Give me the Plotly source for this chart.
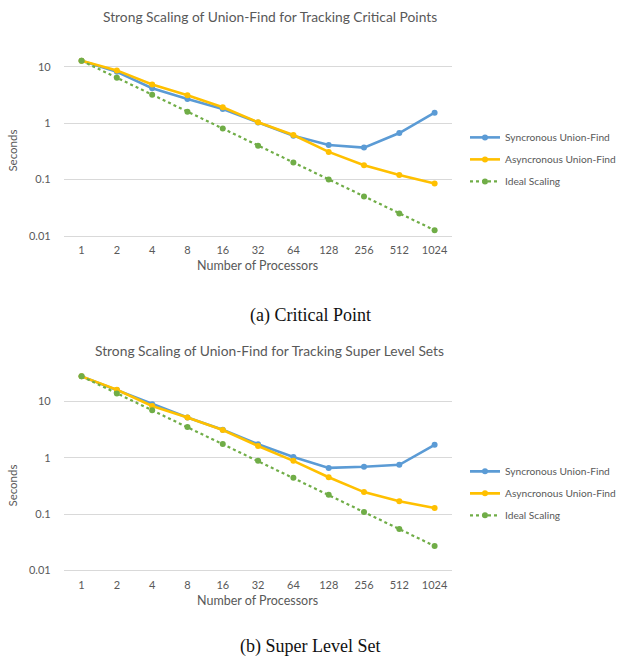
import plotly.graph_objects as go

# Processor counts (category axis)
processors = ["1", "2", "4", "8", "16", "32", "64", "128", "256", "512", "1024"]

# (a) Critical points, seconds
cp_sync = [12.9, 8.2, 4.2, 2.7, 1.8, 1.03, 0.60, 0.41, 0.37, 0.67, 1.54]
cp_async = [12.9, 8.7, 4.9, 3.15, 1.92, 1.04, 0.62, 0.31, 0.18, 0.12, 0.085]
cp_ideal = [12.9, 6.45, 3.22, 1.61, 0.81, 0.40, 0.20, 0.10, 0.050, 0.025, 0.0126]

# (b) Super level sets, seconds
sl_sync = [27.9, 16.0, 8.9, 5.2, 3.15, 1.74, 1.03, 0.66, 0.69, 0.75, 1.70]
sl_async = [27.9, 16.1, 8.3, 5.2, 3.1, 1.62, 0.88, 0.45, 0.245, 0.168, 0.128]
sl_ideal = [27.9, 13.9, 7.0, 3.5, 1.76, 0.88, 0.44, 0.22, 0.109, 0.054, 0.027]

series_names = ["Syncronous Union-Find", "Asyncronous Union-Find", "Ideal Scaling"]
colors = ["#5B9BD5", "#FFC000", "#70AD47"]
dashes = ["solid", "solid", "dot"]

W, H = 621, 666
FONT = "Lato"
GREY = "#595959"


def px_x(v):
    return v / W


def px_y(v):
    return 1 - v / H


fig = go.Figure()

panels = [
    (("x", "y"), [cp_sync, cp_async, cp_ideal], "legend"),
    (("x2", "y2"), [sl_sync, sl_async, sl_ideal], "legend2"),
]
for (xa, ya), data, leg in panels:
    for name, vals, col, dash in zip(series_names, data, colors, dashes):
        fig.add_trace(go.Scatter(
            x=processors, y=vals, name=name, mode="lines+markers",
            xaxis=xa, yaxis=ya, legend=leg, legendgroup=leg + name,
            line=dict(color=col, width=2.6 if dash == "solid" else 2.2, dash=dash),
            marker=dict(color=col, size=6),
        ))

x_dom = [px_x(64), px_x(453)]
tickvals = [0.01, 0.1, 1, 10]
ticktext = ["0.01", "0.1", "1", "10"]

common_x = dict(type="category", range=[-0.5, 10.5], showgrid=False, zeroline=False,
                showline=True, linecolor="#D9D9D9", linewidth=1, ticks="",
                tickfont=dict(family=FONT, size=11, color=GREY), ticklabelstandoff=4)
# invisible outside ticks keep the value labels clear of the gridlines
common_y = dict(type="log", showgrid=True, gridcolor="#D9D9D9", gridwidth=1,
                zeroline=False, showline=False, ticks="outside", ticklen=10,
                tickcolor="rgba(0,0,0,0)", tickvals=tickvals, ticktext=ticktext,
                tickfont=dict(family=FONT, size=11, color=GREY))

legend_style = dict(xanchor="left", yanchor="top", tracegroupgap=3, itemwidth=30,
                    font=dict(family=FONT, size=10.2, color=GREY), bgcolor="rgba(0,0,0,0)")

fig.update_layout(
    width=W, height=H, margin=dict(l=0, r=0, t=0, b=0),
    paper_bgcolor="white", plot_bgcolor="white", showlegend=True,
    xaxis=dict(domain=x_dom, anchor="y", **common_x),
    yaxis=dict(domain=[px_y(238), px_y(45)], range=[-2, 1.398], anchor="x", **common_y),
    xaxis2=dict(domain=x_dom, anchor="y2", **common_x),
    yaxis2=dict(domain=[px_y(575.5), px_y(373)], range=[-2, 1.565], anchor="x2", **common_y),
    legend=dict(x=px_x(466), y=px_y(124), **legend_style),
    legend2=dict(x=px_x(466), y=px_y(461), **legend_style),
)

annotations = [
    dict(text="Strong Scaling of Union-Find for Tracking Critical Points", x=270, y=17,
         font=dict(family=FONT, size=13.8, color=GREY)),
    dict(text="Strong Scaling of Union-Find for Tracking Super Level Sets", x=270, y=354,
         font=dict(family=FONT, size=13.8, color=GREY)),
    dict(text="Number of Processors", x=258, y=268, font=dict(family=FONT, size=12.5, color=GREY)),
    dict(text="Number of Processors", x=258, y=606, font=dict(family=FONT, size=12.5, color=GREY)),
    dict(text="Seconds", x=13, y=152, textangle=-90, font=dict(family=FONT, size=11.5, color=GREY)),
    dict(text="Seconds", x=13, y=490, textangle=-90, font=dict(family=FONT, size=11.5, color=GREY)),
    dict(text="(a) Critical Point", x=311, y=318,
         font=dict(family="Liberation Serif", size=18, color="#111111")),
    dict(text="(b) Super Level Set", x=311, y=652,
         font=dict(family="Liberation Serif", size=18, color="#111111")),
]
for a in annotations:
    fig.add_annotation(text=a["text"], x=px_x(a["x"]), y=px_y(a["y"]), xref="paper", yref="paper",
                       xanchor="center", yanchor="middle", showarrow=False,
                       textangle=a.get("textangle", 0), font=a["font"])

fig.write_html("out.html")
